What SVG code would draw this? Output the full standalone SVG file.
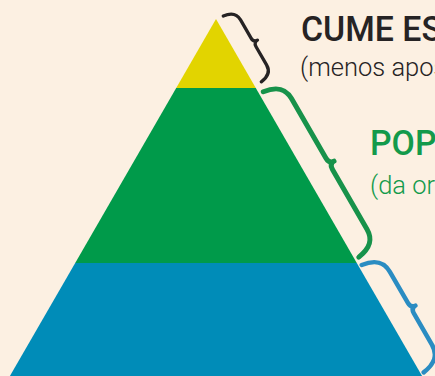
<svg xmlns="http://www.w3.org/2000/svg" width="435" height="376" viewBox="0 0 435 376">
  <style>
    .brace { fill: none; stroke-linecap: round; stroke-linejoin: round; }
    .head { font-family: Roboto, "Liberation Sans", sans-serif; font-weight: 500; font-size: 36px; }
    .sub { font-family: Roboto, "Liberation Sans", sans-serif; font-weight: 300; font-size: 25.5px; }
    .dark { fill: #262324; }
    .grn { fill: #139a4b; }
  </style>
  <rect x="0" y="0" width="435" height="376" fill="#fcf0e2"/>
  <g id="tier-top">
    <polygon points="216,19 255.8,88 176.2,88" fill="#e2d400"/>
  </g>
  <g id="tier-middle">
    <polygon points="176.2,88 255.8,88 356.8,263 75.2,263" fill="#009a4a"/>
  </g>
  <g id="tier-base">
    <polygon points="75.2,263 356.8,263 424.4,380 7.6,380" fill="#008cb8"/>
  </g>
  <g id="connectors">
    <path class="brace" transform="translate(223.3,16) rotate(60)" stroke="#262324" stroke-width="3.3"
      d="M0,0 C1,-9 5,-13 12,-13 L33,-13 Q38,-13 38,-17.5 Q38,-13 43,-13 L64,-13 C71,-13 75,-9 76,0"/>
    <path class="brace" transform="translate(263.3,91.7) rotate(60)" stroke="#17924a" stroke-width="5"
      d="M0,0 C2,-14 8,-21 20,-21 L89,-21 Q95.5,-21 95.5,-26.5 Q95.5,-21 102,-21 L171,-21 C183,-21 189,-14 191,0"/>
    <path class="brace" transform="translate(361.7,265) rotate(60)" stroke="#2a8cc2" stroke-width="4.5"
      d="M0,0 C2,-14 8,-21 20,-21 L56,-21 Q62,-21 62,-26.2 Q62,-21 68,-21 L104,-21 C116,-21 122,-14 124,0"/>
  </g>
  <g id="label-top">
    <text class="head dark" transform="translate(301,41) scale(0.94,1)">CUME ES</text>
    <text class="sub dark" x="300" y="76">(menos apos</text>
  </g>
  <g id="label-middle">
    <text class="head grn" transform="translate(370,155) scale(0.94,1)">POP</text>
    <text class="sub grn" x="370" y="194">(da or</text>
  </g>
</svg>
